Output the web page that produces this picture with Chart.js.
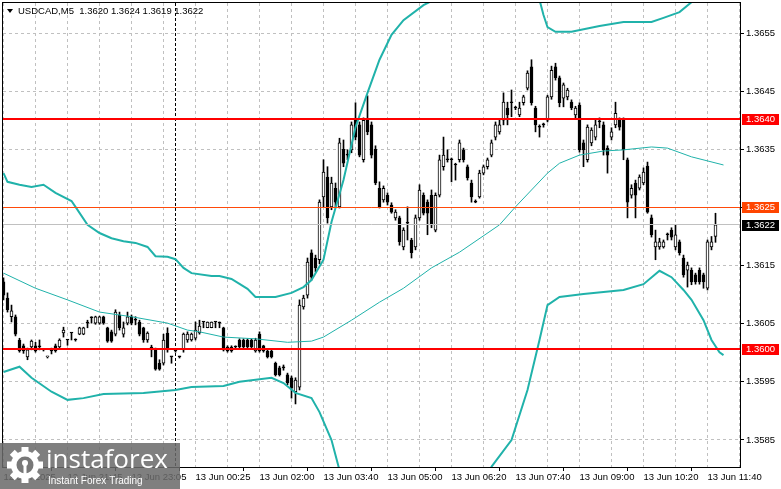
<!DOCTYPE html>
<html><head><meta charset="utf-8">
<script src="https://cdn.jsdelivr.net/npm/chart.js@4.4.1/dist/chart.umd.min.js"></script>
<style>html,body{margin:0;padding:0;background:#fff;overflow:hidden}canvas{display:block}</style>
</head><body>
<canvas id="c" width="781" height="489"></canvas>
<script>
// ---------- DATA ----------
const symbolTitle = 'USDCAD,M5  1.3620 1.3624 1.3619 1.3622';
const timeLabels = ['12 Jun 2025','12 Jun 21:45','12 Jun 23:05','13 Jun 00:25','13 Jun 02:00','13 Jun 03:40',
  '13 Jun 05:00','13 Jun 06:20','13 Jun 07:40','13 Jun 09:00','13 Jun 10:20','13 Jun 11:40'];
const priceTicks = [1.3585,1.3595,1.3605,1.3615,1.3625,1.3635,1.3645,1.3655];

const opens = [
1.36122,1.36094,1.36062,1.36062,1.36022,1.36012,1.35993,1.36010,1.36012,1.36012,
1.36005,1.35993,1.36003,1.36012,1.36010,1.36034,1.36022,1.36034,1.36022,1.36032,
1.36032,1.36051,1.36060,1.36051,1.36051,1.36062,1.36043,1.36036,1.36032,1.36065,
1.36032,1.36051,1.36062,1.36056,1.36053,1.36043,1.36022,1.36010,1.36005,1.35982,
1.35982,1.36034,1.35993,1.36003,1.35993,1.36005,1.36022,1.36022,1.36025,1.36034,
1.36053,1.36043,1.36043,1.36053,1.36051,1.36043,1.36010,1.36010,1.36010,1.36022,
1.36022,1.36022,1.36022,1.36003,1.36032,1.36012,1.36003,1.36003,1.35982,1.35974,
1.35974,1.35962,1.35957,1.35933,1.35941,1.36079,1.36099,1.36172,1.36163,1.36160,
1.36268,1.36302,1.36251,1.36283,1.36251,1.36350,1.36340,1.36349,1.36400,1.36392,
1.36332,1.36400,1.36392,1.36350,1.36283,1.36263,1.36271,1.36254,1.36232,1.36232,
1.36182,1.36223,1.36194,1.36182,1.36232,1.36271,1.36259,1.36271,1.36211,1.36271,
1.36320,1.36332,1.36332,1.36323,1.36332,1.36349,1.36320,1.36292,1.36259,1.36268,
1.36309,1.36320,1.36340,1.36371,1.36380,1.36400,1.36421,1.36430,1.36421,1.36409,
1.36430,1.36455,1.36492,1.36421,1.36388,1.36392,1.36400,1.36440,1.36492,1.36473,
1.36438,1.36440,1.36431,1.36409,1.36426,1.36361,1.36332,1.36361,1.36371,1.36397,
1.36392,1.36352,1.36371,1.36392,1.36400,1.36400,1.36332,1.36271,1.36292,1.36283,
1.36292,1.36321,1.36232,1.36182,1.36182,1.36182,1.36203,1.36211,1.36182,1.36191,
1.36163,1.36142,1.36142,1.36134,1.36142,1.36134,1.36111,1.36182,1.36200];
const highs = [
1.36129,1.36103,1.36082,1.36065,1.36025,1.36015,1.36008,1.36022,1.36018,1.36022,
1.36006,1.35994,1.36008,1.36015,1.36024,1.36044,1.36022,1.36034,1.36024,1.36044,
1.36044,1.36056,1.36062,1.36063,1.36063,1.36063,1.36044,1.36039,1.36074,1.36070,
1.36053,1.36070,1.36065,1.36062,1.36056,1.36044,1.36036,1.36013,1.36008,1.35988,
1.36032,1.36043,1.35993,1.36005,1.35994,1.36034,1.36036,1.36034,1.36053,1.36056,
1.36053,1.36053,1.36053,1.36053,1.36053,1.36044,1.36012,1.36012,1.36012,1.36024,
1.36024,1.36024,1.36024,1.36025,1.36036,1.36013,1.36005,1.36005,1.35984,1.35977,
1.35979,1.35965,1.35960,1.35957,1.36091,1.36099,1.36163,1.36177,1.36168,1.36263,
1.36332,1.36320,1.36302,1.36292,1.36369,1.36366,1.36349,1.36397,1.36430,1.36397,
1.36404,1.36442,1.36397,1.36356,1.36294,1.36287,1.36275,1.36258,1.36246,1.36235,
1.36215,1.36251,1.36197,1.36237,1.36289,1.36275,1.36263,1.36280,1.36275,1.36340,
1.36371,1.36349,1.36335,1.36326,1.36366,1.36352,1.36323,1.36297,1.36263,1.36314,
1.36323,1.36335,1.36366,1.36397,1.36400,1.36447,1.36431,1.36452,1.36424,1.36431,
1.36443,1.36485,1.36504,1.36424,1.36392,1.36395,1.36443,1.36493,1.36498,1.36476,
1.36464,1.36455,1.36435,1.36424,1.36430,1.36366,1.36392,1.36387,1.36400,1.36404,
1.36397,1.36356,1.36387,1.36431,1.36404,1.36404,1.36335,1.36289,1.36297,1.36306,
1.36318,1.36328,1.36237,1.36211,1.36197,1.36194,1.36206,1.36215,1.36220,1.36194,
1.36168,1.36156,1.36146,1.36137,1.36146,1.36137,1.36194,1.36200,1.36240];
const lows = [
1.36091,1.36070,1.36053,1.36029,1.36001,1.35999,1.35988,1.36005,1.36001,1.36005,
1.36003,1.35991,1.35998,1.36001,1.36006,1.36027,1.36013,1.36022,1.36020,1.36031,
1.36031,1.36043,1.36051,1.36049,1.36049,1.36049,1.36018,1.36018,1.36029,1.36039,
1.36027,1.36048,1.36048,1.36048,1.36029,1.36018,1.36018,1.35993,1.35970,1.35970,
1.35979,1.36001,1.35982,1.36001,1.35991,1.36001,1.36018,1.36020,1.36022,1.36032,
1.36043,1.36043,1.36043,1.36043,1.36043,1.36003,1.36001,1.36001,1.36008,1.36008,
1.36008,1.36008,1.36008,1.36001,1.36001,1.36001,1.35991,1.35991,1.35960,1.35960,
1.35970,1.35945,1.35922,1.35912,1.35936,1.36075,1.36094,1.36125,1.36139,1.36153,
1.36251,1.36223,1.36246,1.36251,1.36249,1.36320,1.36332,1.36344,1.36366,1.36337,
1.36328,1.36375,1.36335,1.36289,1.36249,1.36259,1.36254,1.36240,1.36228,1.36185,
1.36177,1.36194,1.36163,1.36177,1.36228,1.36237,1.36203,1.36215,1.36208,1.36268,
1.36314,1.36328,1.36294,1.36297,1.36328,1.36328,1.36297,1.36259,1.36258,1.36266,
1.36306,1.36316,1.36337,1.36366,1.36376,1.36392,1.36392,1.36406,1.36418,1.36406,
1.36426,1.36452,1.36426,1.36380,1.36371,1.36388,1.36397,1.36436,1.36469,1.36423,
1.36423,1.36435,1.36418,1.36404,1.36345,1.36320,1.36328,1.36356,1.36366,1.36387,
1.36340,1.36309,1.36366,1.36387,1.36383,1.36332,1.36232,1.36266,1.36232,1.36280,
1.36289,1.36240,1.36199,1.36160,1.36178,1.36180,1.36194,1.36194,1.36177,1.36168,
1.36130,1.36113,1.36117,1.36118,1.36118,1.36111,1.36108,1.36177,1.36190];
const closes = [
1.36099,1.36074,1.36072,1.36032,1.36003,1.36003,1.36005,1.36020,1.36003,1.36010,
1.36005,1.35994,1.36003,1.36003,1.36022,1.36039,1.36022,1.36034,1.36022,1.36043,
1.36043,1.36051,1.36060,1.36062,1.36062,1.36051,1.36020,1.36020,1.36070,1.36043,
1.36043,1.36062,1.36051,1.36056,1.36032,1.36022,1.36034,1.36005,1.35972,1.35972,
1.36022,1.36005,1.35993,1.36003,1.35993,1.36032,1.36032,1.36032,1.36039,1.36046,
1.36053,1.36053,1.36053,1.36053,1.36051,1.36005,1.36003,1.36003,1.36010,1.36010,
1.36010,1.36010,1.36010,1.36022,1.36003,1.36003,1.35993,1.35993,1.35962,1.35962,
1.35974,1.35948,1.35939,1.35953,1.36082,1.36094,1.36156,1.36130,1.36146,1.36259,
1.36311,1.36232,1.36292,1.36259,1.36361,1.36326,1.36340,1.36392,1.36371,1.36340,
1.36400,1.36380,1.36340,1.36292,1.36251,1.36283,1.36259,1.36242,1.36242,1.36191,
1.36211,1.36223,1.36172,1.36232,1.36280,1.36240,1.36240,1.36220,1.36271,1.36332,
1.36340,1.36332,1.36332,1.36323,1.36361,1.36332,1.36301,1.36268,1.36259,1.36309,
1.36320,1.36332,1.36361,1.36392,1.36392,1.36431,1.36409,1.36430,1.36421,1.36421,
1.36440,1.36481,1.36430,1.36392,1.36388,1.36392,1.36440,1.36486,1.36473,1.36430,
1.36461,1.36452,1.36421,1.36421,1.36349,1.36349,1.36388,1.36383,1.36392,1.36397,
1.36349,1.36340,1.36380,1.36412,1.36388,1.36349,1.36259,1.36283,1.36271,1.36302,
1.36311,1.36242,1.36203,1.36191,1.36191,1.36191,1.36203,1.36199,1.36203,1.36172,
1.36134,1.36151,1.36122,1.36122,1.36122,1.36122,1.36191,1.36191,1.36220];

// Bollinger bands: [bar index, price]
const bandUpper = [[0,1.36309],[1,1.36294],[4,1.36289],[7,1.36285],[10,1.36289],[13,1.36275],[17,1.36261],[18,1.36251],
 [21,1.36220],[24,1.36206],[27,1.36197],[30,1.36192],[33,1.36189],[36,1.36182],[38,1.36166],[41,1.36165],[43,1.36161],
 [45,1.36146],[47,1.36137],[52,1.36132],[54,1.36132],[57,1.36127],[61,1.36110],[63,1.36096],[68,1.36096],[72,1.36103],
 [75,1.36113],[77,1.36125],[80,1.36160],[82,1.36225],[85,1.36297],[88,1.36388],[91,1.36447],[94,1.36504],[97,1.36547],
 [100,1.36572],[105,1.36598],[110,1.36615],[120,1.36641],[130,1.36641],[133,1.36615],[134,1.36607],[135,1.36581],
 [136,1.36560],[138,1.36552],[142,1.36552],[149,1.36562],[155,1.36569],[162,1.36569],[165,1.36576],[169,1.36586],
 [172,1.36603],[175,1.36621],[180,1.36633]];
const bandMiddle = [[0,1.36137],[8,1.36111],[16,1.36091],[24,1.36070],[32,1.36062],[41,1.36051],[46,1.36039],[49,1.36036],
 [55,1.36027],[63,1.36024],[71,1.36018],[77,1.36020],[80,1.36027],[87,1.36056],[94,1.36087],[100,1.36111],[107,1.36146],
 [114,1.36173],[124,1.36220],[128,1.36251],[136,1.36309],[139,1.36326],[144,1.36340],[150,1.36347],[155,1.36349],
 [162,1.36354],[166,1.36352],[172,1.36337],[180,1.36323]];
const bandLower = [[0,1.35967],[4,1.35976],[7,1.35957],[12,1.35933],[16,1.35919],[20,1.35922],[25,1.35929],[35,1.35931],
 [43,1.35936],[47,1.35941],[55,1.35943],[59,1.35950],[67,1.35957],[70,1.35948],[73,1.35931],[77,1.35922],[79,1.35898],
 [82,1.35850],[84,1.35798],[87,1.35730],[92,1.35644],[100,1.35592],[110,1.35575],[118,1.35644],[122,1.35804],
 [127,1.35850],[131,1.35936],[134,1.36022],[136,1.36082],[139,1.36096],[145,1.36101],[155,1.36108],[160,1.36118],
 [164,1.36141],[167,1.36130],[170,1.36108],[172,1.36091],[175,1.36056],[177,1.36022],[179,1.36001],[180,1.35996]];

const levelLines = [
  {value:1.36402, label:'1.3640', color:'#ff0000', width:2, box:'#ff0000', text:'#ffffff'},
  {value:1.36250, label:'1.3625', color:'#ff4a0a', width:1, box:'#ff4500', text:'#ffffff'},
  {value:1.36220, label:'1.3622', color:'#c0c0c0', width:1, box:'#000000', text:'#ffffff'},
  {value:1.36006, label:'1.3600', color:'#ff0000', width:2, box:'#ff0000', text:'#ffffff'}
];
const separatorIndex = 43;

// ---------- CHART ----------
const FONT = '"Liberation Sans", Arial, sans-serif';
const wickData = highs.map((h,i)=>({x:i, y:[lows[i], h]}));
const bodyData = opens.map((o,i)=>({x:i, y:[o, closes[i]]}));
const toXY = arr => arr.map(p=>({x:p[0], y:p[1]}));

const mt4 = {
  id:'mt4',
  beforeDatasetsDraw(chart){
    const {ctx, chartArea:a, scales:{x,y}} = chart;
    ctx.save();
    // dashed grid from the scales' ticks
    ctx.strokeStyle='#c0c0c0'; ctx.lineWidth=1; ctx.setLineDash([3,3]);
    ctx.beginPath();
    x.ticks.forEach(t=>{ const px = Math.round(x.getPixelForValue(t.value)-0.5)+0.5; ctx.moveTo(px, a.top); ctx.lineTo(px, a.bottom); });
    y.ticks.forEach(t=>{ const py = Math.round(y.getPixelForValue(t.value)-0.5)+0.5; ctx.moveTo(a.left, py); ctx.lineTo(a.right, py); });
    ctx.stroke();
    // day separator
    const sx = Math.round(x.getPixelForValue(separatorIndex)-0.5)+0.5;
    ctx.strokeStyle='#000'; ctx.setLineDash([3,2]);
    ctx.beginPath(); ctx.moveTo(sx, a.top); ctx.lineTo(sx, a.bottom); ctx.stroke();
    ctx.restore();
  },
  afterDatasetsDraw(chart){
    const {ctx, chartArea:a, scales:{y}} = chart;
    ctx.save();
    levelLines.forEach(l=>{
      let py = y.getPixelForValue(l.value);
      py = l.width===1 ? Math.round(py-0.5)+0.5 : Math.round(py);
      ctx.strokeStyle=l.color; ctx.lineWidth=l.width;
      ctx.beginPath(); ctx.moveTo(a.left, py); ctx.lineTo(a.right, py); ctx.stroke();
    });
    ctx.restore();
  },
  afterDraw(chart){
    const {ctx, chartArea:a, scales:{y}} = chart;
    ctx.save();
    // frame
    ctx.strokeStyle='#000'; ctx.lineWidth=1;
    ctx.strokeRect(a.left-0.5, a.top-0.5, a.right-a.left+1, a.bottom-a.top+1);
    // price boxes
    ctx.font = '9.5px '+FONT; ctx.textBaseline='middle'; ctx.textAlign='left';
    levelLines.forEach(l=>{
      const py = Math.round(y.getPixelForValue(l.value));
      ctx.fillStyle=l.box; ctx.fillRect(a.right+2, py-5, 37, 11);
      ctx.fillStyle=l.text; ctx.fillText(l.label, a.right+6, py+0.5);
    });
    // title
    ctx.fillStyle='#000';
    ctx.beginPath(); ctx.moveTo(7,9); ctx.lineTo(13,9); ctx.lineTo(10,13); ctx.closePath(); ctx.fill();
    ctx.font='9.5px '+FONT; ctx.textBaseline='alphabetic';
    ctx.fillText(symbolTitle, 18, 14);
    // watermark
    ctx.fillStyle='rgba(106,106,106,0.86)';
    ctx.fillRect(0, 443, 180, 46);
    const cx=25, cy=465;
    ctx.fillStyle='#ffffff';
    ctx.beginPath();
    for(let k=0;k<8;k++){
      const ang=k*Math.PI/4;
      ctx.save(); ctx.translate(cx,cy); ctx.rotate(ang);
      ctx.rect(-3.5,-18,7,6); ctx.restore();
    }
    ctx.fill();
    ctx.beginPath(); ctx.arc(cx,cy,14,0,Math.PI*2); ctx.fill();
    ctx.fillStyle='rgba(120,120,120,1)';
    ctx.beginPath(); ctx.arc(cx,cy,8.5,0,Math.PI*2); ctx.fill();
    ctx.fillStyle='#ffffff';
    ctx.beginPath(); ctx.arc(cx,cy-2,3,0,Math.PI*2); ctx.fill();
    ctx.fillRect(cx-1.5,cy,3,12);
    ctx.font='26px "Open Sans", sans-serif';
    ctx.fillText('instaforex', 46, 468);
    ctx.font='10px '+FONT;
    ctx.fillText('Instant Forex Trading', 48, 484);
    ctx.restore();
  }
};

new Chart(document.getElementById('c'), {
  type:'bar',
  data:{ datasets:[
    {type:'line', label:'upper', data:toXY(bandUpper), borderColor:'#20b2aa', borderWidth:2, pointRadius:0, tension:0, fill:false, order:0},
    {type:'line', label:'middle', data:toXY(bandMiddle), borderColor:'#20b2aa', borderWidth:1, pointRadius:0, tension:0, fill:false, order:0},
    {type:'line', label:'lower', data:toXY(bandLower), borderColor:'#20b2aa', borderWidth:2, pointRadius:0, tension:0, fill:false, order:0},
    {label:'body', data:bodyData, grouped:false, barThickness:3, minBarLength:1, borderWidth:1, borderSkipped:false,
      borderColor:'#000', backgroundColor:(c)=>{const i=c.dataIndex; return (closes[i]>opens[i])?'#ffffff':'#000000';}, order:1},
    {label:'wick', data:wickData, grouped:false, barThickness:1, backgroundColor:'#000', borderWidth:0, order:2}
  ]},
  options:{
    responsive:false, animation:false, devicePixelRatio:1,
    layout:{padding:{left:3, top:3, right:0, bottom:0}},
    plugins:{legend:{display:false}, tooltip:{enabled:false}},
    scales:{
      x:{type:'linear', min:-0.125, max:184.125, offset:false, position:'bottom',
        afterBuildTicks:(s)=>{const t=[]; for(let v=0; v<=184; v+=8) t.push({value:v}); s.ticks=t;},
        afterFit:(s)=>{s.height=22; s.paddingLeft=0; s.paddingRight=0;},
        ticks:{autoSkip:false, maxRotation:0, minRotation:0, align:'start', padding:1, color:'#000',
          font:{family:FONT, size:9.5},
          callback:(v)=> (v%16===0 && timeLabels[v/16]) ? timeLabels[v/16] : ''},
        grid:{drawOnChartArea:false, color:'#c0c0c0', lineWidth:1, tickLength:4, tickBorderDash:[],
          tickColor:(c)=> (c.tick && c.tick.value%16===0) ? '#000' : 'rgba(0,0,0,0)'},
        border:{display:false}
      },
      y:{type:'linear', position:'right', min:1.3580353, max:1.366016,
        afterBuildTicks:(s)=>{s.ticks=priceTicks.map(v=>({value:v}));},
        afterFit:(s)=>{s.width=41; s.paddingTop=0; s.paddingBottom=0;},
        ticks:{autoSkip:false, padding:2, color:'#000', font:{family:FONT, size:9.5},
          callback:(v)=> Number(v).toFixed(4)},
        grid:{drawOnChartArea:false, color:'#c0c0c0', lineWidth:1, tickLength:4, tickColor:'#000', tickBorderDash:[]},
        border:{display:false}
      }
    }
  },
  plugins:[mt4]
});
</script>
</body></html>
